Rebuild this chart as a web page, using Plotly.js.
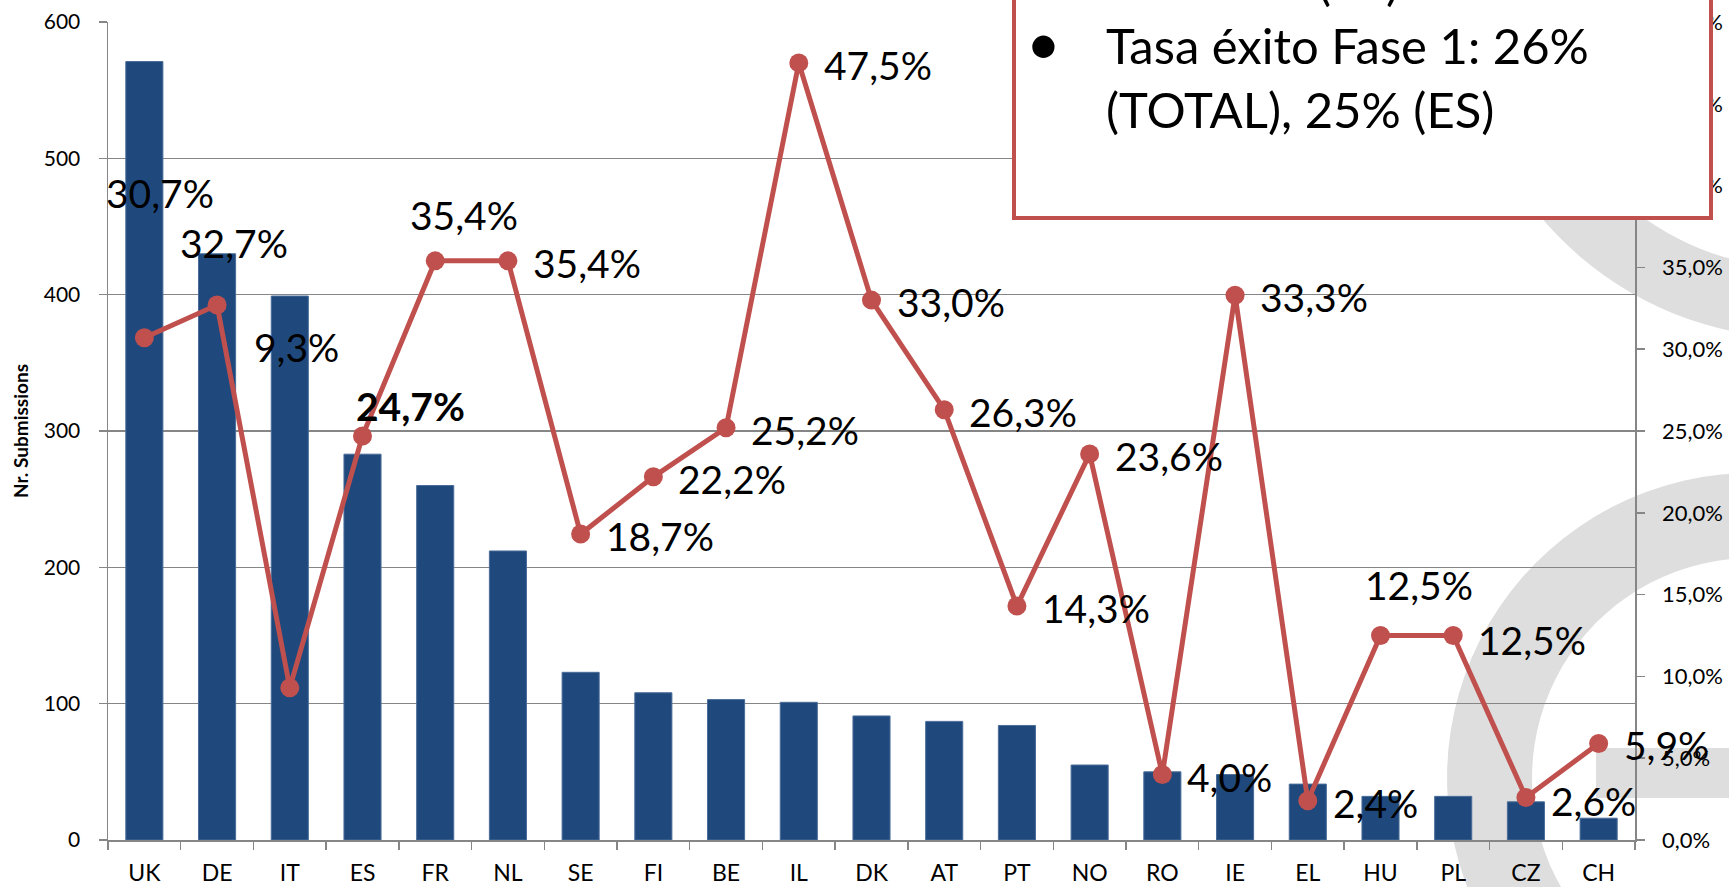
<!DOCTYPE html>
<html>
<head>
<meta charset="utf-8">
<script src="https://cdn.plot.ly/plotly-3.0.1.min.js"></script>
<style>
html,body{margin:0;padding:0;background:#ffffff;}
#chart{width:1729px;height:887px;}
</style>
</head>
<body>
<div id="chart"></div>
<script>
// ---------------- data ----------------
const countries = ['UK','DE','IT','ES','FR','NL','SE','FI','BE','IL','DK','AT','PT','NO','RO','IE','EL','HU','PL','CZ','CH'];
const submissions = [571,430,399,283,260,212,123,108,103,101,91,87,84,55,50,48,41,32,32,28,16];
const successRate = [30.7,32.7,9.3,24.7,35.4,35.4,18.7,22.2,25.2,47.5,33.0,26.3,14.3,23.6,4.0,33.3,2.4,12.5,12.5,2.6,5.9];
const leftAxisTitle = 'Nr. Submissions';
const boxHiddenLine = '(ES)';
const boxLine1 = 'Tasa éxito Fase 1: 26%';
const boxLine2 = '(TOTAL), 25% (ES)';
const boldLabel = 'ES';

// ---------------- layout helpers ----------------
const W = 1729, H = 887;
const M = {l:108, r:94, t:22, b:47};
const PW = W - M.l - M.r, PH = H - M.t - M.b;
const px = X => (X - M.l) / PW;
const py = Y => (M.t + PH - Y) / PH;

// label offsets (pixels) for hand-placed labels; others sit right of the marker
const handPlaced = {UK:[16,-145], DE:[17,-62], IT:[7,-341], ES:[48,-30], FR:[29,-46], HU:[38,-51]};
const rightShiftY = {PL:-4, CZ:-4};

const fmt = v => v.toFixed(1).replace('.', ',') + '%';
const labelFont = {family:'Lato, sans-serif', size:39, color:'#000'};

const annotations = countries.map((c, i) => {
  const txt = c === boldLabel ? '<b>' + fmt(successRate[i]) + '</b>' : fmt(successRate[i]);
  const base = {x:c, y:successRate[i], xref:'x', yref:'y2', text:txt, showarrow:false, font:labelFont};
  if (handPlaced[c]) {
    return Object.assign(base, {xanchor:'center', yanchor:'middle', xshift:handPlaced[c][0], yshift:-handPlaced[c][1]});
  }
  return Object.assign(base, {xanchor:'left', yanchor:'middle', xshift:23, yshift:(rightShiftY[c] || -2)});
});

// text box
const boxFont = {family:'Lato, sans-serif', size:49, color:'#000'};
annotations.push(
  {xref:'paper', yref:'paper', x:px(1316), y:py(-19), xanchor:'left', yanchor:'middle', showarrow:false,
   text:boxHiddenLine, font:boxFont},
  {xref:'paper', yref:'paper', x:px(1043), y:py(42), xanchor:'center', yanchor:'middle', showarrow:false,
   text:'•', font:{family:'Lato, sans-serif', size:60, color:'#000'}},
  {xref:'paper', yref:'paper', x:px(1104), y:py(45), xanchor:'left', yanchor:'middle', showarrow:false,
   text:boxLine1, font:boxFont},
  {xref:'paper', yref:'paper', x:px(1104), y:py(109), xanchor:'left', yanchor:'middle', showarrow:false,
   text:boxLine2, font:boxFont}
);

// decorative watermark rings (pixel geometry -> paper coords)
function ringPath(cx, cy, ro, ri, a0, a1) {
  const n = 60, pts = [];
  for (let k = 0; k <= n; k++) {
    const a = (a0 + (a1 - a0) * k / n) * Math.PI / 180;
    pts.push([cx + ro * Math.cos(a), cy + ro * Math.sin(a)]);
  }
  for (let k = n; k >= 0; k--) {
    const a = (a0 + (a1 - a0) * k / n) * Math.PI / 180;
    pts.push([cx + ri * Math.cos(a), cy + ri * Math.sin(a)]);
  }
  return 'M' + pts.map(p => px(p[0]).toFixed(5) + ',' + py(p[1]).toFixed(5)).join(' L') + ' Z';
}
const gray = '#dedede';
const shapes = [
  {type:'path', xref:'paper', yref:'paper', layer:'below', line:{width:0}, fillcolor:gray,
   path:ringPath(1800, 0, 338, 268, 40, 200)},
  {type:'path', xref:'paper', yref:'paper', layer:'below', line:{width:0}, fillcolor:gray,
   path:ringPath(1752, 778, 305, 220, 85, 300)},
  {type:'rect', xref:'paper', yref:'paper', layer:'below', line:{width:0}, fillcolor:gray,
   x0:px(1596), x1:px(1760), y0:py(798), y1:py(748)},
  {type:'rect', xref:'paper', yref:'paper', layer:'above', line:{color:'#c0504d', width:4}, fillcolor:'#ffffff',
   x0:px(1014), x1:px(1711), y0:py(218), y1:py(-40)}
];

const axisGray = '#868686';
const traces = [
  {type:'bar', x:countries, y:submissions, name:'Nr. Submissions',
   marker:{color:'#1f497d', line:{color:'#4a6d99', width:1}}, hoverinfo:'skip'},
  {type:'scatter', mode:'lines+markers', x:countries, y:successRate, yaxis:'y2', name:'Tasa éxito',
   line:{color:'#c0504d', width:5}, marker:{color:'#c0504d', size:19}, hoverinfo:'skip'}
];

const layout = {
  width:W, height:H,
  margin:{l:M.l, r:M.r, t:M.t, b:M.b, pad:0},
  paper_bgcolor:'#ffffff', plot_bgcolor:'rgba(0,0,0,0)',
  separators:', ',
  showlegend:false,
  bargap:0.49,
  font:{family:'Lato, sans-serif', color:'#000'},
  xaxis:{type:'category', range:[-0.5, countries.length - 0.5], autorange:false,
         tickson:'boundaries', ticks:'outside', ticklen:8, tickwidth:1.5, tickcolor:axisGray,
         showline:true, linecolor:axisGray, linewidth:1.5, showgrid:false, zeroline:false,
         tickfont:{size:23, color:'#000'}, ticklabelstandoff:12, automargin:false, fixedrange:true},
  yaxis:{range:[0,600], autorange:false, tick0:0, dtick:100, ticks:'outside', ticklen:8, tickwidth:1.5, tickcolor:axisGray,
         showline:true, linecolor:axisGray, linewidth:1.5, showgrid:true, gridcolor:axisGray, gridwidth:1.5,
         zeroline:false, tickfont:{size:21, color:'#000'}, ticklabelstandoff:14, automargin:false,
         title:{text:leftAxisTitle, font:{size:19, weight:'bold', color:'#000'}, standoff:10}, fixedrange:true},
  yaxis2:{overlaying:'y', side:'right', range:[0,50], autorange:false, tick0:0, dtick:5, tickformat:'.1f', ticksuffix:'%',
          ticks:'outside', ticklen:8, tickwidth:1.5, tickcolor:axisGray, showline:true, linecolor:axisGray,
          linewidth:1.5, showgrid:false, zeroline:false, tickfont:{size:22, color:'#000'},
          ticklabelstandoff:13, automargin:false, fixedrange:true},
  shapes:shapes,
  annotations:annotations
};

Plotly.newPlot('chart', traces, layout, {displayModeBar:false, responsive:false, staticPlot:true});
</script>
</body>
</html>
